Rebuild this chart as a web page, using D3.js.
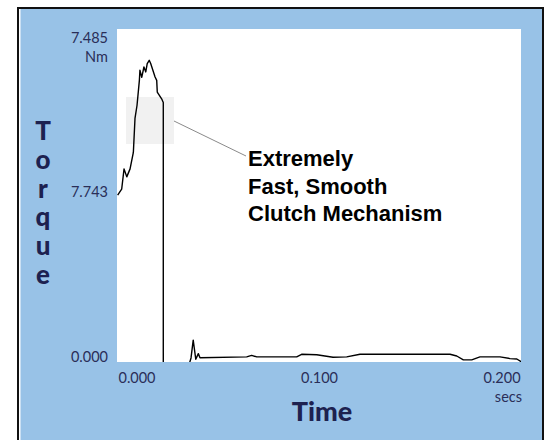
<!DOCTYPE html>
<html>
<head>
<meta charset="utf-8">
<script src="https://cdn.jsdelivr.net/npm/d3@7"></script>
<style>
    body { margin: 0; background: #fff; }
    svg { display: block; }
</style>
</head>
<body>
<svg id="chart" width="548" height="440"></svg>
<script>
// Torque trace (seconds, Nm)
let times = [-0.0106, -0.0084, -0.0071, -0.0056, -0.0038, -0.0020, -0.0011, 0.0000, 0.0013, 0.0016,
    0.0026, 0.0038, 0.0048, 0.0056, 0.0067, 0.0075, 0.0099, 0.0108, 0.0111, 0.0135,
    0.0144, 0.0144, 0.0263, 0.0287, 0.0296, 0.0308, 0.0322, 0.0336, 0.0345, 0.0601,
    0.0628, 0.0656, 0.0875, 0.0902, 0.0985, 0.1074, 0.1149, 0.1222, 0.1715, 0.1752,
    0.1788, 0.1834, 0.1879, 0.1989, 0.2044, 0.2081, 0.2108];
let torque = [7.81, 8.08, 9.02, 8.65, 9.02, 9.78, 11.35, 11.95, 13.11, 13.58,
    13.25, 13.73, 13.50, 13.89, 14.04, 13.89, 13.27, 13.11, 12.57, 12.26,
    12.09, 0, 0, 0.02, 0.28, 1.10, 0.22, 0.48, 0.29, 0.33,
    0.40, 0.33, 0.33, 0.45, 0.43, 0.31, 0.33, 0.45, 0.45, 0.37,
    0.19, 0.19, 0.33, 0.33, 0.25, 0.23, 0.09];

let xTicks = [0, 0.1, 0.2];
let xTickLabels = ["0.000", "0.100", "0.200"];
let yTicks = [0, 7.743, 15.486];
let yTickLabels = ["0.000", "7.743", "7.485"];
let yTitle = "Torque";
let xTitle = "Time";
let note = ["Extremely", "Fast, Smooth", "Clutch Mechanism"];

let navy = "#1d2150",
    tickColor = "#2a2e58",
    blue = "#98c2e7";

let svg = d3.select("#chart");

// frame
svg.append("rect")
    .attr("x", 18).attr("y", 8)
    .attr("width", 525).attr("height", 440)
    .attr("fill", "#fff")
    .attr("stroke", "#111")
    .attr("stroke-width", 2);
svg.append("rect")
    .attr("x", 20.5).attr("y", 9)
    .attr("width", 521.5).attr("height", 440)
    .attr("fill", blue);

// plot area
let pLeft = 117, pRight = 521, pTop = 29, pBottom = 362;
svg.append("rect")
    .attr("x", pLeft).attr("y", pTop)
    .attr("width", pRight - pLeft).attr("height", pBottom - pTop)
    .attr("fill", "#fff");
svg.append("clipPath")
    .attr("id", "plotClip")
    .append("rect")
    .attr("x", pLeft).attr("y", pTop)
    .attr("width", pRight - pLeft).attr("height", pBottom - pTop);

let x = d3.scaleLinear()
    .domain([-0.01096, 0.2104])
    .range([pLeft, pRight]);
// zero sits just under the white area's lower edge
let y = d3.scaleLinear()
    .domain([0, 15.486])
    .range([pBottom + 2, pTop]);

// highlight box and leader
svg.append("rect")
    .attr("x", 126).attr("y", 97)
    .attr("width", 48).attr("height", 47)
    .attr("fill", "#f1f1f1");
svg.append("line")
    .attr("x1", 174).attr("y1", 121)
    .attr("x2", 246).attr("y2", 156)
    .attr("stroke", "#8a8a8a")
    .attr("stroke-width", 1);

// trace
let data = times.map((t, i) => ({t: t, v: torque[i]}));
let line = d3.line()
    .x(d => x(d.t))
    .y(d => y(d.v));
svg.append("path")
    .datum(data)
    .attr("d", line)
    .attr("clip-path", "url(#plotClip)")
    .attr("fill", "none")
    .attr("stroke", "#000")
    .attr("stroke-width", 1.4)
    .attr("stroke-linejoin", "round");

// y tick labels
let yOffsets = [-3, -1, 13];
svg.selectAll(".ytick")
    .data(yTicks)
    .join("text")
    .attr("class", "ytick")
    .attr("x", 108)
    .attr("y", (d, i) => y(d) + yOffsets[i] + 1)
    .attr("text-anchor", "end")
    .attr("font-family", "Lato, sans-serif")
    .attr("font-size", 14.5)
    .attr("fill", tickColor)
    .text((d, i) => yTickLabels[i]);
svg.append("text")
    .attr("x", 108).attr("y", y(15.486) + 33)
    .attr("text-anchor", "end")
    .attr("font-family", "Lato, sans-serif")
    .attr("font-size", 14.5)
    .attr("fill", tickColor)
    .text("Nm");

// x tick labels
svg.selectAll(".xtick")
    .data(xTicks)
    .join("text")
    .attr("class", "xtick")
    .attr("x", d => x(d))
    .attr("y", 383)
    .attr("text-anchor", "middle")
    .attr("font-family", "Lato, sans-serif")
    .attr("font-size", 14.5)
    .attr("fill", tickColor)
    .text((d, i) => xTickLabels[i]);
svg.append("text")
    .attr("x", 522).attr("y", 402)
    .attr("text-anchor", "end")
    .attr("font-family", "Lato, sans-serif")
    .attr("font-size", 14.5)
    .attr("fill", tickColor)
    .text("secs");

// axis titles
svg.append("text")
    .attr("x", 322).attr("y", 421)
    .attr("text-anchor", "middle")
    .attr("font-family", "Lato, sans-serif")
    .attr("font-weight", "900")
    .attr("font-size", 27)
    .attr("fill", navy)
    .text(xTitle);
// stacked letters, one text element in upright vertical writing
svg.append("text")
    .attr("x", 43)
    .attr("y", 114)
    .style("writing-mode", "vertical-rl")
    .style("text-orientation", "upright")
    .style("letter-spacing", "-3.2px")
    .attr("font-family", "Lato, sans-serif")
    .attr("font-weight", "900")
    .attr("font-size", 26)
    .attr("fill", navy)
    .text(yTitle);

// annotation
svg.selectAll(".note")
    .data(note)
    .join("text")
    .attr("class", "note")
    .attr("x", 248)
    .attr("y", (d, i) => 166 + i * 27.5)
    .attr("font-family", "'Liberation Sans', Arial, sans-serif")
    .attr("font-weight", "bold")
    .attr("font-size", 22)
    .attr("fill", "#000")
    .text(d => d);
</script>
</body>
</html>
